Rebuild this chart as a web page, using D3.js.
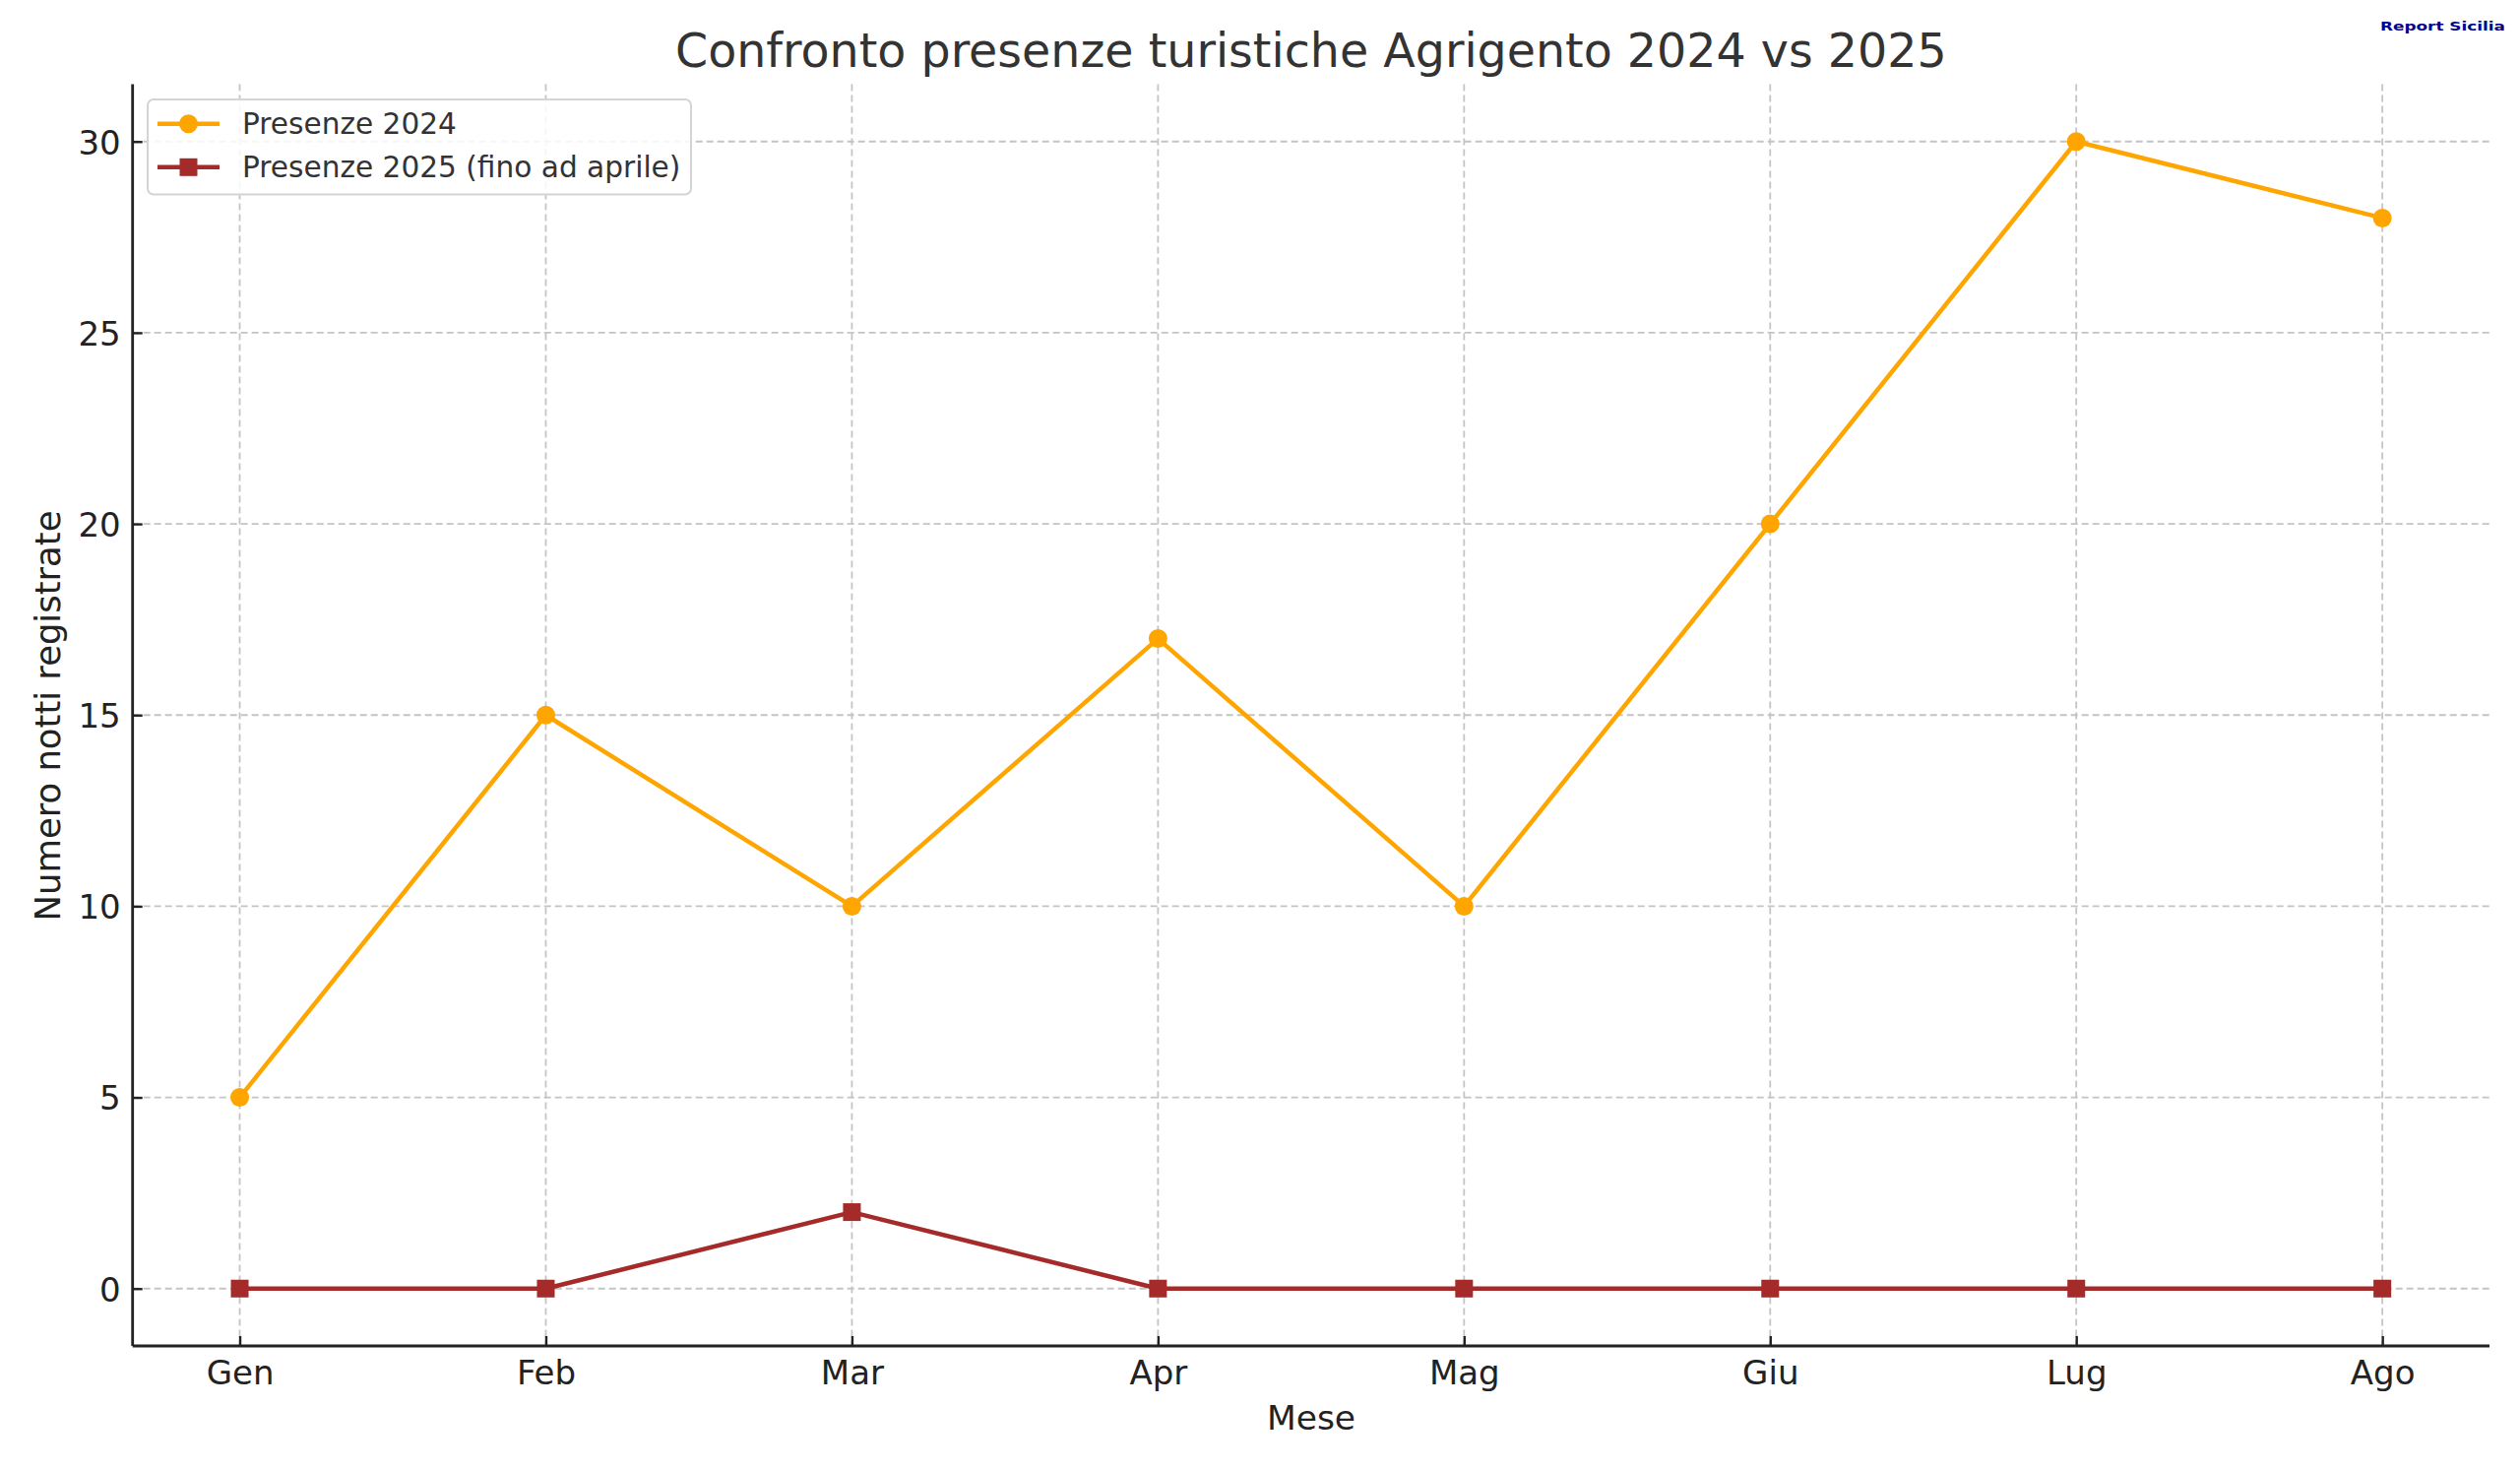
<!DOCTYPE html>
<html>
<head>
<meta charset="utf-8">
<script src="https://cdn.jsdelivr.net/npm/d3@7"></script>
<style>
  html, body { margin: 0; padding: 0; background: #fff; }
  svg { display: block; font-family: "DejaVu Sans", sans-serif; }
</style>
</head>
<body>
<svg id="chart" width="2560" height="1493"></svg>
<script>
const months = ["Gen", "Feb", "Mar", "Apr", "Mag", "Giu", "Lug", "Ago"];
const presenze2024 = [5, 15, 10, 17, 10, 20, 30, 28];
const presenze2025 = [0, 0, 2, 0, 0, 0, 0, 0];
const yTicks = [0, 5, 10, 15, 20, 25, 30];
const seriesNames = ["Presenze 2024", "Presenze 2025 (fino ad aprile)"];
const titleText = "Confronto presenze turistiche Agrigento 2024 vs 2025";
const xLabelText = "Mese";
const yLabelText = "Numero notti registrate";
const watermarkText = "Report Sicilia";

const svg = d3.select("#chart");
const L = 134.7, R = 2529, T = 85.5, B = 1367;

const x = d3.scaleLinear().domain([-0.35, months.length - 1 + 0.35]).range([L, R]);
const y = d3.scaleLinear().domain([-1.5, 31.5]).range([B, T]);

// grid
const grid = svg.append("g");
grid.selectAll("line.v").data(months).join("line")
  .attr("x1", (d, i) => x(i)).attr("x2", (d, i) => x(i))
  .attr("y1", T).attr("y2", B)
  .attr("stroke", "#c4c4c4").attr("stroke-width", 1.8).attr("stroke-dasharray", "7,4");
grid.selectAll("line.h").data(yTicks).join("line")
  .attr("y1", d => y(d)).attr("y2", d => y(d))
  .attr("x1", L).attr("x2", R)
  .attr("stroke", "#c4c4c4").attr("stroke-width", 1.8).attr("stroke-dasharray", "7,4");

// axes
const xAxis = d3.axisBottom(x).tickValues(d3.range(months.length))
  .tickFormat(i => months[i]).tickSizeInner(-10).tickSizeOuter(0).tickPadding(15);
const yAxis = d3.axisLeft(y).tickValues(yTicks)
  .tickSizeInner(-10).tickSizeOuter(0).tickPadding(12);

const gx = svg.append("g").attr("transform", `translate(0,${B})`).call(xAxis);
const gy = svg.append("g").attr("transform", `translate(${L},0)`).call(yAxis);
[gx, gy].forEach(g => {
  g.select(".domain").attr("stroke", "#222").attr("stroke-width", 2.8);
  g.selectAll(".tick line").attr("stroke", "#222").attr("stroke-width", 2.4);
  g.selectAll(".tick text").attr("fill", "#222").attr("font-size", 34)
    .attr("font-family", "DejaVu Sans");
});
gx.selectAll(".tick text").attr("dy", "0.71em");
gy.selectAll(".tick text").attr("dy", "0.36em");
gx.select(".domain").attr("d", `M${L},0H${R}`);
gy.select(".domain").attr("d", `M0,${B}V${T}`);

// lines
const line = d3.line().x((d, i) => x(i)).y(d => y(d));
const c2024 = "#FFA500", c2025 = "#A52A2A";

svg.append("path").datum(presenze2024).attr("d", line)
  .attr("fill", "none").attr("stroke", c2024).attr("stroke-width", 4.5)
  .attr("stroke-linejoin", "round");
svg.append("g").selectAll("circle").data(presenze2024).join("circle")
  .attr("cx", (d, i) => x(i)).attr("cy", d => y(d)).attr("r", 9.5).attr("fill", c2024);

svg.append("path").datum(presenze2025).attr("d", line)
  .attr("fill", "none").attr("stroke", c2025).attr("stroke-width", 4.5)
  .attr("stroke-linejoin", "round");
svg.append("g").selectAll("rect").data(presenze2025).join("rect")
  .attr("x", (d, i) => x(i) - 9).attr("y", d => y(d) - 9)
  .attr("width", 18).attr("height", 18).attr("fill", c2025);

// legend
const lg = svg.append("g");
lg.append("rect").attr("x", 150).attr("y", 101).attr("width", 552).attr("height", 96.5)
  .attr("rx", 6).attr("fill", "#fff").attr("fill-opacity", 0.85)
  .attr("stroke", "#d4d4d4").attr("stroke-width", 2);
const rows = [
  { name: seriesNames[0], color: c2024, shape: "circle", yy: 125.7 },
  { name: seriesNames[1], color: c2025, shape: "square", yy: 169.8 }
];
rows.forEach(r => {
  lg.append("line").attr("x1", 160).attr("x2", 223).attr("y1", r.yy).attr("y2", r.yy)
    .attr("stroke", r.color).attr("stroke-width", 4.5);
  if (r.shape === "circle") {
    lg.append("circle").attr("cx", 191.5).attr("cy", r.yy).attr("r", 9.5).attr("fill", r.color);
  } else {
    lg.append("rect").attr("x", 191.5 - 9).attr("y", r.yy - 9)
      .attr("width", 18).attr("height", 18).attr("fill", r.color);
  }
  lg.append("text").attr("x", 246).attr("y", r.yy).attr("dy", "0.36em")
    .attr("font-size", 29.6).attr("fill", "#333").text(r.name);
});

// title
svg.append("text").attr("x", (L + R) / 2).attr("y", 68).attr("text-anchor", "middle")
  .attr("font-size", 47.5).attr("fill", "#333").text(titleText);

// axis labels
svg.append("text").attr("x", 1332).attr("y", 1451.7).attr("text-anchor", "middle")
  .attr("font-size", 34.5).attr("fill", "#222").text(xLabelText);
svg.append("text").attr("transform", `translate(61,727) rotate(-90)`)
  .attr("text-anchor", "middle").attr("font-size", 35.4).attr("fill", "#222").text(yLabelText);

// watermark
svg.append("text").attr("x", 2418).attr("y", 31).attr("font-size", 12)
  .attr("font-weight", "bold").attr("fill", "#00008B")
  .attr("textLength", 127).attr("lengthAdjust", "spacingAndGlyphs").text(watermarkText);
</script>
</body>
</html>
